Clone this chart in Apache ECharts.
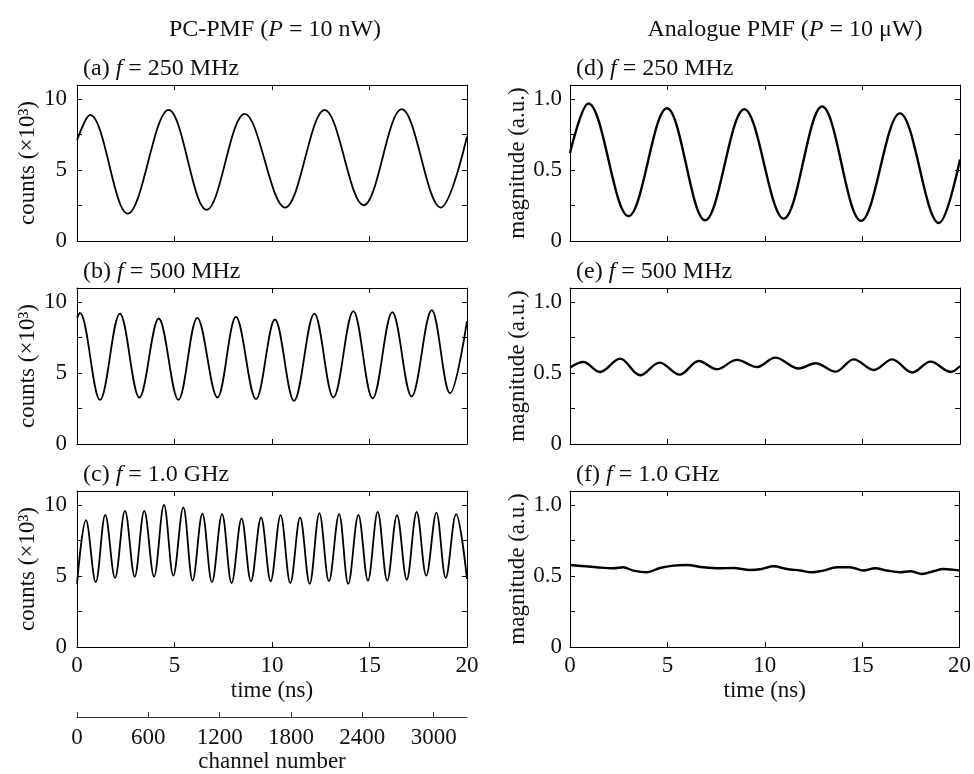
<!DOCTYPE html>
<html>
<head>
<meta charset="utf-8">
<script src="https://cdn.jsdelivr.net/npm/echarts@6/dist/echarts.min.js"></script>
<style>
  html, body { margin: 0; padding: 0; background: #fff; }
  #chart { width: 974px; height: 774px; }
</style>
</head>
<body>
<div id="chart"></div>
<script>
var chart = echarts.init(document.getElementById('chart'));

/*-- PC-PMF counts (x10^3), [time ns, counts] --*/
let countsA = [[0,7.1],[0.67,8.9],[2.6,1.93],[4.7,9.25],[6.65,2.2],[8.6,8.96],[10.67,2.36],[12.7,9.25],
  [14.7,2.52],[16.65,9.3],[18.65,2.36],[20,7.35]];
let countsB = [[0,8.9],[0.15,9.25],[1.18,3.11],[2.2,9.2],[3.2,3.28],[4.19,8.85],[5.2,3.11],[6.17,8.9],
  [7.2,3.28],[8.15,8.97],[9.18,3.16],[10.15,8.78],[11.13,3.04],[12.17,9.2],[13.15,3.28],[14.17,9.37],
  [15.16,3.21],[16.17,9.3],[17.16,3.35],[18.19,9.44],[19.13,3.58],[20,8.67]];
let countsC = [[0,4.45],[0.46,8.95],[0.96,4.57],[1.45,9.32],[1.95,4.87],[2.46,9.6],[2.96,4.96],[3.45,9.6],
  [3.95,4.96],[4.46,10.02],[4.94,5.03],[5.45,9.84],[5.93,4.68],[6.43,9.41],[6.92,4.57],[7.44,9.37],
  [7.93,4.5],[8.44,9.06],[8.92,4.64],[9.44,9.13],[9.93,4.64],[10.44,9.3],[10.94,4.5],[11.44,9.13],
  [11.93,4.45],[12.43,9.44],[12.92,4.64],[13.44,9.37],[13.91,4.45],[14.43,9.32],[14.92,4.68],[15.42,9.53],
  [15.91,4.68],[16.41,9.3],[16.91,4.75],[17.42,9.53],[17.91,5.03],[18.43,9.48],[18.91,4.87],[19.44,9.37],
  [20,4.8]];

/*-- Analogue PMF magnitude (a.u.) --*/
let magD = [[0,0.62],[0.94,0.97],[3.0,0.175],[4.97,0.936],[6.93,0.146],[8.94,0.929],[10.96,0.158],
  [12.93,0.948],[14.93,0.142],[16.92,0.9],[18.92,0.127],[20,0.575]];
let magE = [[0,0.54],[0.68,0.578],[1.54,0.508],[2.57,0.602],[3.6,0.485],[4.59,0.574],[5.62,0.489],
  [6.61,0.585],[7.53,0.527],[8.56,0.593],[9.59,0.543],[10.53,0.609],[11.73,0.532],[12.59,0.569],
  [13.61,0.51],[14.55,0.597],[15.58,0.522],[16.52,0.597],[17.55,0.504],[18.49,0.581],[19.52,0.508],[20,0.55]];
let magF = [[0,0.578],[1.37,0.562],[2.23,0.555],[2.74,0.562],[3.25,0.539],[3.94,0.527],[4.62,0.557],
  [5.31,0.574],[5.99,0.578],[6.85,0.562],[7.71,0.555],[8.39,0.557],[9.25,0.543],[9.85,0.55],[10.45,0.569],
  [11.13,0.55],[11.82,0.539],[12.41,0.527],[13.0,0.539],[13.7,0.562],[14.38,0.562],[15.07,0.539],
  [15.67,0.555],[16.27,0.539],[16.95,0.527],[17.47,0.534],[18.07,0.515],[18.66,0.534],[19.18,0.55],[20,0.539]];

/*-- 轴刻度 --*/
let timeTicks = [0, 5, 10, 15, 20];
let countLabels = [0, 5, 10];
let magLabels = [0, 0.5, 1.0];
let channelTicks = [0, 600, 1200, 1800, 2400, 3000];
let channelMax = 3280;

let FONT = 'Liberation Serif, Times New Roman, serif';
let INK = '#111';

let panels = [
  { data: countsA, col: 0, row: 0, tag: '(a) ', freq: ' = 250 MHz', kind: 'counts' },
  { data: countsB, col: 0, row: 1, tag: '(b) ', freq: ' = 500 MHz', kind: 'counts' },
  { data: countsC, col: 0, row: 2, tag: '(c) ', freq: ' = 1.0 GHz', kind: 'counts' },
  { data: magD, col: 1, row: 0, tag: '(d) ', freq: ' = 250 MHz', kind: 'mag' },
  { data: magE, col: 1, row: 1, tag: '(e) ', freq: ' = 500 MHz', kind: 'mag' },
  { data: magF, col: 1, row: 2, tag: '(f) ', freq: ' = 1.0 GHz', kind: 'mag' }
];
let colLeft = [77, 570];
let rowTop = [85, 288, 491];
let plotW = 390, plotH = 156;

let grids = [], xAxes = [], yAxes = [], series = [], titles = [];

let richText = {
  n: { fontFamily: FONT, fontSize: 24, color: INK, fontWeight: 'normal' },
  i: { fontFamily: FONT, fontSize: 24, color: INK, fontWeight: 'normal', fontStyle: 'italic' }
};

let tick = { show: true, inside: true, length: 5, lineStyle: { color: '#000', width: 1 } };
let line = { show: true, onZero: false, lineStyle: { color: '#000', width: 1 } };

panels.forEach(function (p, i) {
  grids.push({ left: colLeft[p.col], top: rowTop[p.row], width: plotW, height: plotH, show: false });
  let bottomRow = p.row === 2;
  // 底部x轴
  xAxes.push({
    type: 'value', gridIndex: i, position: 'bottom', min: 0, max: 20, interval: 5,
    axisLine: line, axisTick: tick, splitLine: { show: false },
    axisLabel: { show: bottomRow, margin: 7, color: INK, fontFamily: FONT, fontSize: 23 },
    name: bottomRow ? 'time (ns)' : '', nameLocation: 'middle', nameGap: 32,
    nameTextStyle: { color: INK, fontFamily: FONT, fontSize: 23 }
  });
  // 顶部镜像轴
  xAxes.push({
    type: 'value', gridIndex: i, position: 'top', min: 0, max: 20, interval: 5,
    axisLine: line, axisTick: tick, axisLabel: { show: false }, splitLine: { show: false }
  });
  let isCount = p.kind === 'counts';
  let yMax = isCount ? 11 : 1.1;
  let yInt = isCount ? 2.5 : 0.25;
  yAxes.push({
    type: 'value', gridIndex: i, position: 'left', min: 0, max: yMax, interval: yInt,
    axisLine: line, axisTick: tick, splitLine: { show: false },
    axisLabel: {
      margin: isCount ? 10 : 8, color: INK, fontFamily: FONT, fontSize: 23,
      formatter: function (v) {
        if (isCount) return countLabels.indexOf(v) >= 0 ? String(v) : '';
        let k = magLabels.findIndex(function (m) { return Math.abs(m - v) < 1e-6; });
        return k < 0 ? '' : (v === 0 ? '0' : v.toFixed(1));
      }
    },
    name: isCount ? 'counts (×10³)' : 'magnitude (a.u.)',
    nameLocation: 'middle', nameRotate: 90, nameGap: 38,
    nameTextStyle: { color: INK, fontFamily: FONT, fontSize: 23 }
  });
  yAxes.push({
    type: 'value', gridIndex: i, position: 'right', min: 0, max: yMax, interval: yInt,
    axisLine: line, axisTick: tick, axisLabel: { show: false }, splitLine: { show: false }
  });
  series.push({
    type: 'line', xAxisIndex: 2 * i, yAxisIndex: 2 * i, data: p.data,
    smooth: 0.36, showSymbol: false, silent: true,
    lineStyle: { color: '#000', width: isCount ? 1.8 : 2.4 }
  });
  titles.push({
    text: '{n|' + p.tag + '}{i|f}{n|' + p.freq + '}',
    left: colLeft[p.col] + 1, top: rowTop[p.row] - 33,
    textStyle: { rich: richText }
  });
});

/*-- 通道号轴 --*/
grids.push({ left: colLeft[0], top: 694, width: plotW, height: 31, show: false });
xAxes.push({
  type: 'value', gridIndex: 6, position: 'bottom', min: 0, max: channelMax,
  axisLine: { show: true, lineStyle: { color: '#333', width: 1 } },
  axisTick: { show: true, inside: true, length: 5, customValues: channelTicks, lineStyle: { color: '#333' } },
  axisLabel: {
    margin: 9, color: INK, fontFamily: FONT, fontSize: 23, customValues: channelTicks,
    formatter: function (v) { return String(v); }
  },
  splitLine: { show: false },
  name: 'channel number', nameLocation: 'middle', nameGap: 32,
  nameTextStyle: { color: INK, fontFamily: FONT, fontSize: 23 }
});
yAxes.push({ type: 'value', gridIndex: 6, show: false, min: 0, max: 1 });

titles.push({
  text: '{n|PC-PMF (}{i|P}{n| = 10 nW)}', left: 270, top: 13, textAlign: 'center',
  textStyle: { rich: richText }
});
titles.push({
  text: '{n|Analogue PMF (}{i|P}{n| = 10 μW)}', left: 780, top: 13, textAlign: 'center',
  textStyle: { rich: richText }
});

chart.setOption({
  backgroundColor: '#fff',
  animation: false,
  title: titles,
  grid: grids,
  xAxis: xAxes,
  yAxis: yAxes,
  series: series
});
</script>
</body>
</html>
